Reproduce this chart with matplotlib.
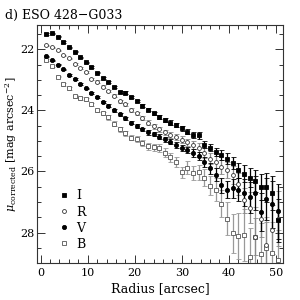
import matplotlib
matplotlib.use("Agg")
import matplotlib.pyplot as plt
from matplotlib.lines import Line2D
from matplotlib.ticker import MultipleLocator

plt.rcParams['font.family'] = ['DejaVu Serif']
plt.rcParams['mathtext.fontset'] = 'dejavuserif'

radius = [1.2, 2.4, 3.6, 4.8, 6.0, 7.2, 8.4, 9.6, 10.8, 12.0, 13.2, 14.4, 15.6, 16.8,
          18.0, 19.2, 20.4, 21.6, 22.8, 24.0, 25.2, 26.4, 27.6, 28.8, 30.0, 31.2, 32.4,
          33.6, 34.8, 36.0, 37.2, 38.4, 39.6, 40.8, 42.0, 43.2, 44.4, 45.6, 46.8, 48.0,
          49.2, 50.4]

mu_I = [21.50, 21.48, 21.58, 21.76, 21.94, 22.08, 22.26, 22.42, 22.58, 22.76, 22.94, 23.08,
        23.24, 23.40, 23.42, 23.56, 23.70, 23.84, 23.98, 24.10, 24.22, 24.32, 24.40, 24.48,
        24.58, 24.70, 24.80, 24.82, 25.12, 25.22, 25.36, 25.46, 25.58, 25.72, 25.96, 26.08,
        26.20, 26.32, 26.50, 26.52, 26.70, 27.60]
err_I = [0.02, 0.02, 0.02, 0.02, 0.02, 0.02, 0.02, 0.02, 0.03, 0.03, 0.03, 0.03, 0.03, 0.03,
         0.04, 0.04, 0.04, 0.05, 0.05, 0.05, 0.06, 0.06, 0.07, 0.07, 0.08, 0.08, 0.09, 0.10,
         0.11, 0.12, 0.14, 0.16, 0.18, 0.20, 0.24, 0.28, 0.32, 0.36, 0.42, 0.48, 0.55, 0.70]

mu_R = [21.87, 21.93, 22.03, 22.20, 22.30, 22.48, 22.62, 22.75, 22.96, 23.06, 23.22, 23.36,
        23.52, 23.70, 23.80, 23.98, 24.10, 24.26, 24.40, 24.52, 24.62, 24.72, 24.80, 24.88,
        24.96, 25.04, 25.12, 25.22, 25.40, 25.58, 25.70, 25.84, 25.96, 26.12, 26.40, 26.95,
        27.18, 28.13, 27.54, 28.40, 27.90, 27.54]
err_R = [0.02, 0.02, 0.02, 0.02, 0.02, 0.03, 0.03, 0.03, 0.03, 0.04, 0.04, 0.04, 0.05, 0.05,
         0.05, 0.06, 0.06, 0.07, 0.07, 0.08, 0.08, 0.09, 0.10, 0.10, 0.11, 0.12, 0.13, 0.14,
         0.16, 0.18, 0.20, 0.23, 0.26, 0.30, 0.36, 0.42, 0.50, 0.60, 0.60, 0.75, 0.80, 0.90]

mu_V = [22.23, 22.36, 22.50, 22.66, 22.84, 22.98, 23.14, 23.28, 23.42, 23.56, 23.72, 23.84,
        24.00, 24.12, 24.26, 24.40, 24.52, 24.62, 24.72, 24.78, 24.86, 24.94, 25.02, 25.12,
        25.22, 25.30, 25.40, 25.50, 25.70, 25.90, 26.10, 26.45, 26.60, 26.55, 26.60, 26.70,
        26.85, 26.70, 27.34, 26.90, 27.08, 27.30]
err_V = [0.02, 0.02, 0.02, 0.02, 0.02, 0.03, 0.03, 0.03, 0.03, 0.03, 0.04, 0.04, 0.04, 0.05,
         0.05, 0.05, 0.06, 0.06, 0.07, 0.07, 0.08, 0.08, 0.09, 0.10, 0.10, 0.11, 0.12, 0.14,
         0.16, 0.18, 0.20, 0.24, 0.28, 0.32, 0.38, 0.44, 0.50, 0.56, 0.62, 0.70, 0.78, 0.90]

mu_B = [22.35, 22.55, 22.89, 23.15, 23.28, 23.54, 23.60, 23.64, 23.80, 24.00, 24.10, 24.23,
        24.43, 24.62, 24.75, 24.89, 24.95, 25.08, 25.18, 25.21, 25.22, 25.38, 25.54, 25.70,
        26.03, 25.87, 26.05, 26.03, 26.20, 26.46, 26.59, 27.05, 27.54, 28.03, 28.10, 28.07,
        28.80, 28.15, 28.70, 28.50, 28.66, 28.90]
err_B = [0.03, 0.03, 0.03, 0.04, 0.04, 0.04, 0.05, 0.05, 0.05, 0.06, 0.06, 0.07, 0.07, 0.08,
         0.08, 0.09, 0.10, 0.10, 0.11, 0.12, 0.13, 0.14, 0.15, 0.16, 0.18, 0.20, 0.22, 0.25,
         0.28, 0.32, 0.38, 0.45, 0.55, 0.65, 0.75, 0.85, 0.95, 1.00, 1.00, 1.00, 1.00, 1.00]

bands = ['I', 'R', 'V', 'B']

fig = plt.figure(figsize=(3, 3), dpi=100)
ax = fig.add_axes([0.123, 0.123, 0.820, 0.794])

styles = {
    'I': dict(marker='s', ms=2.2, mfc='black', mec='black', ecolor='black'),
    'R': dict(marker='o', ms=2.8, mfc='white', mec='#333333', ecolor='#888888'),
    'V': dict(marker='o', ms=3.0, mfc='black', mec='black', ecolor='black'),
    'B': dict(marker='s', ms=2.6, mfc='white', mec='#555555', ecolor='#999999'),
}
data = {'I': (mu_I, err_I), 'R': (mu_R, err_R), 'V': (mu_V, err_V), 'B': (mu_B, err_B)}

for b in ['B', 'R', 'V', 'I']:
    mu, er = data[b]
    st = styles[b]
    ax.errorbar(radius, mu, yerr=er, fmt=st['marker'], ms=st['ms'], mfc=st['mfc'],
                mec=st['mec'], mew=0.6, ecolor=st['ecolor'], elinewidth=0.9,
                capsize=1.8, capthick=0.8, zorder=3)

ax.set_xlim(-0.8, 51.5)
ax.set_ylim(29.0, 21.2)
ax.xaxis.set_major_locator(MultipleLocator(10))
ax.xaxis.set_minor_locator(MultipleLocator(2))
ax.yaxis.set_major_locator(MultipleLocator(2))
ax.yaxis.set_minor_locator(MultipleLocator(0.5))
ax.tick_params(which='both', direction='in', top=True, right=True, labelsize=8, width=0.7,
               colors='#333333', labelcolor='black')
ax.tick_params(axis='y', which='both', pad=2)
ax.tick_params(which='major', length=6)
ax.tick_params(which='minor', length=3)
for s in ax.spines.values():
    s.set_linewidth(0.8)
    s.set_color('#333333')

ax.set_xlabel('Radius [arcsec]', fontsize=9, labelpad=3)
ax.set_ylabel(r'$\mu_{\rm corrected}$ [mag arcsec$^{-2}$]', fontsize=8)
ax.yaxis.set_label_coords(-0.074, 0.5)
fig.text(0.017, 0.95, 'd) ESO 428\u2212G033', fontsize=9, ha='left', va='center')

handles = []
for b in bands:
    st = styles[b]
    handles.append(Line2D([], [], linestyle='none', marker=st['marker'], ms=st['ms'],
                          mfc=st['mfc'], mec=st['mec'], mew=0.6))
ax.legend(handles, bands, loc='upper left', bbox_to_anchor=(0.07, 0.33), frameon=False,
          fontsize=9, handlelength=0.8, handletextpad=0.6, labelspacing=0.25,
          borderaxespad=0)

fig.savefig('out.png', dpi=100)
